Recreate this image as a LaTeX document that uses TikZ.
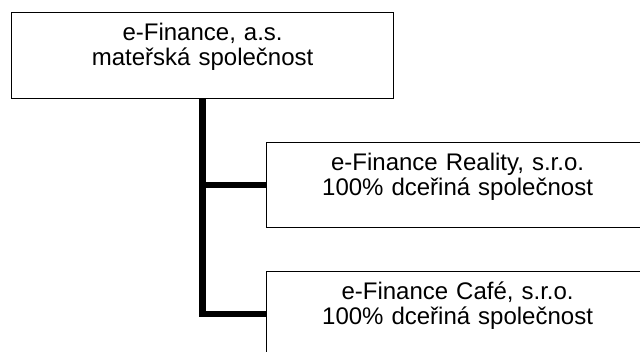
\documentclass[tikz,border=0pt]{standalone}
\usepackage{fontspec}
\setmainfont{Liberation Sans}

\begin{document}
\begin{tikzpicture}[x=1pt,y=-1pt,
  firma/.style={draw,rectangle,line width=1.2pt,anchor=north west,
    minimum width=382pt,minimum height=86pt,text width=370pt,align=center,
    font=\fontsize{24}{25}\selectfont},
  vazba/.style={line width=6.5pt}]
\useasboundingbox (0,0) rectangle (640,351);
\node[firma] (eFinance) at (11,12) {e-Finance, a.s.\\mateřská společnost\\[-3pt]\mbox{}};
\node[firma,minimum height=85pt] (Reality) at (266,142) {e-Finance Reality, s.r.o.\\100\% dceřiná společnost\\[-3pt]\mbox{}};
\node[firma,minimum height=85pt] (Cafe) at (266,271) {e-Finance Café, s.r.o.\\100\% dceřiná společnost\\[-3pt]\mbox{}};
\draw[vazba] (eFinance.south) |- (Cafe.west);
\draw[vazba] (eFinance.south |- Reality.west) -- (Reality.west);
\end{tikzpicture}
\end{document}
